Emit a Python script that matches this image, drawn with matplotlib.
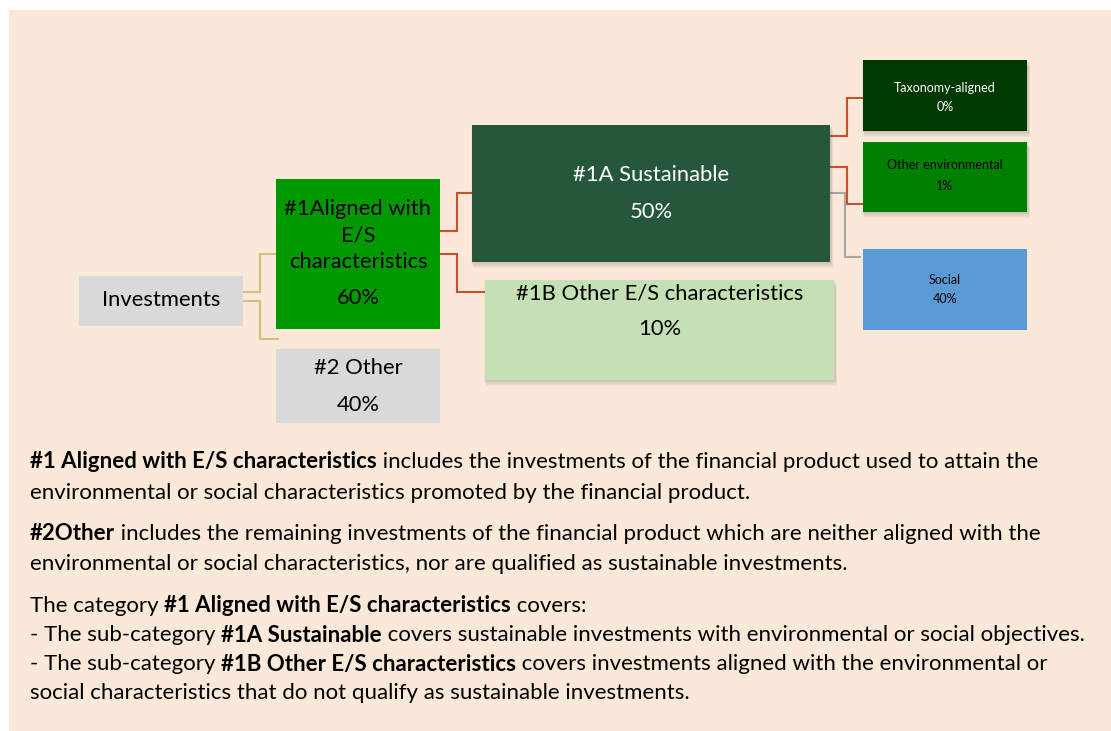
import matplotlib
matplotlib.use("Agg")
import matplotlib.pyplot as plt
from matplotlib.patches import Rectangle

# ---------------- data ----------------
node_names = ["Investments", "#1Aligned with\nE/S\ncharacteristics", "#2 Other",
              "#1A Sustainable", "#1B Other E/S characteristics",
              "Taxonomy-aligned", "Other environmental", "Social"]
node_values = [None, "60%", "40%", "50%", "10%", "0%", "1%", "40%"]

desc_lines = [
    [("#1 Aligned with E/S characteristics", True),
     (" includes the investments of the financial product used to attain the", False)],
    [("environmental or social characteristics promoted by the financial product.", False)],
    [("#2Other", True),
     (" includes the remaining investments of the financial product which are neither aligned with the", False)],
    [("environmental or social characteristics, nor are qualified as sustainable investments.", False)],
    [("The category ", False), ("#1 Aligned with E/S characteristics", True), (" covers:", False)],
    [("- The sub-category ", False), ("#1A Sustainable", True),
     (" covers sustainable investments with environmental or social objectives.", False)],
    [("- The sub-category ", False), ("#1B Other E/S characteristics", True),
     (" covers investments aligned with the environmental or", False)],
    [("social characteristics that do not qualify as sustainable investments.", False)],
]

# ---------------- layout (pixel coords) ----------------
W, H = 1111, 731
FONT = "Lato"
BIG, SMALL = 15.8, 9.0
# (x0, y0, x1, y1, face, text color, fontsize, shadow, name_y, value_y)
boxes = [
    (79, 276, 243, 326, "#D9D9D9", "black", BIG, False, [300], None),
    (276, 179, 440, 329, "#009900", "black", BIG, False, [209, 235, 262], 298),
    (276, 349, 440, 423, "#D9D9D9", "black", BIG, False, [368], 405),
    (472, 125, 830, 262, "#25573A", "white", BIG, True, [175], 212),
    (485, 280, 834, 380, "#C5E0B4", "black", BIG, True, [293], 329),
    (863, 60, 1027, 131, "#003A00", "white", SMALL, True, [88], 107),
    (863, 142, 1027, 212, "#008000", "black", SMALL, True, [165], 186),
    (863, 249, 1027, 330, "#5B9BD5", "black", SMALL, False, [280], 299),
]

connectors = [
    ([(243, 292), (260, 292), (260, 254), (276, 254)], "#CFC27E"),
    ([(243, 301), (260, 301), (260, 339), (278, 339)], "#CFC27E"),
    ([(440, 231), (457, 231), (457, 193), (472, 193)], "#C8502F"),
    ([(440, 254), (457, 254), (457, 292), (485, 292)], "#C8502F"),
    ([(830, 136), (847, 136), (847, 98), (863, 98)], "#C8502F"),
    ([(830, 167), (847, 167), (847, 204), (863, 204)], "#C8502F"),
    ([(830, 193), (845, 193), (845, 257), (860, 257)], "#A6A6A6"),
]

fig = plt.figure(figsize=(W / 100, H / 100), dpi=100)
fig.patch.set_facecolor("white")
ax = fig.add_axes([0, 0, 1, 1])
ax.set_xlim(0, W)
ax.set_ylim(H, 0)
ax.axis("off")

ax.add_patch(Rectangle((9, 10), W - 9, H - 10, facecolor="#FAE8D8", edgecolor="none", zorder=0))

for pts, col in connectors:
    xs = [p[0] for p in pts]
    ys = [p[1] for p in pts]
    ax.plot(xs, ys, color=col, lw=1.5, solid_joinstyle="miter", zorder=1)

for (x0, y0, x1, y1, face, tc, fs, shadow, ny, vy), name, val in zip(boxes, node_names, node_values):
    if shadow:
        for k in range(6):
            d = 1 + k
            ax.add_patch(Rectangle((x0 - 1 + d * 0.3, y0 + d), x1 - x0 + 2, y1 - y0,
                                   facecolor="#555555", alpha=0.045, edgecolor="none", zorder=1.5))
    ax.add_patch(Rectangle((x0, y0), x1 - x0, y1 - y0, facecolor=face, edgecolor="none", zorder=2))
    cx = (x0 + x1) / 2
    for line, y in zip(name.split("\n"), ny):
        ax.text(cx, y, line, color=tc, fontsize=fs, ha="center", va="center", family=FONT, zorder=3)
    if val is not None:
        ax.text(cx, vy, val, color=tc, fontsize=fs, ha="center", va="center", family=FONT, zorder=3)

# description text with mixed bold
fig.canvas.draw()
renderer = fig.canvas.get_renderer()
line_y = [462, 493, 534, 564, 606, 635, 664, 693]
inv = ax.transData.inverted()
for segs, y in zip(desc_lines, line_y):
    x = 30
    for s, bold in segs:
        t = ax.text(x, y, s, fontsize=16.05, family=FONT, fontweight="bold" if bold else "normal",
                    ha="left", va="center", color="black", zorder=3)
        bb = t.get_window_extent(renderer=renderer)
        x = inv.transform((bb.x1, bb.y0))[0]

fig.savefig("out.png", dpi=100, facecolor=fig.get_facecolor())
